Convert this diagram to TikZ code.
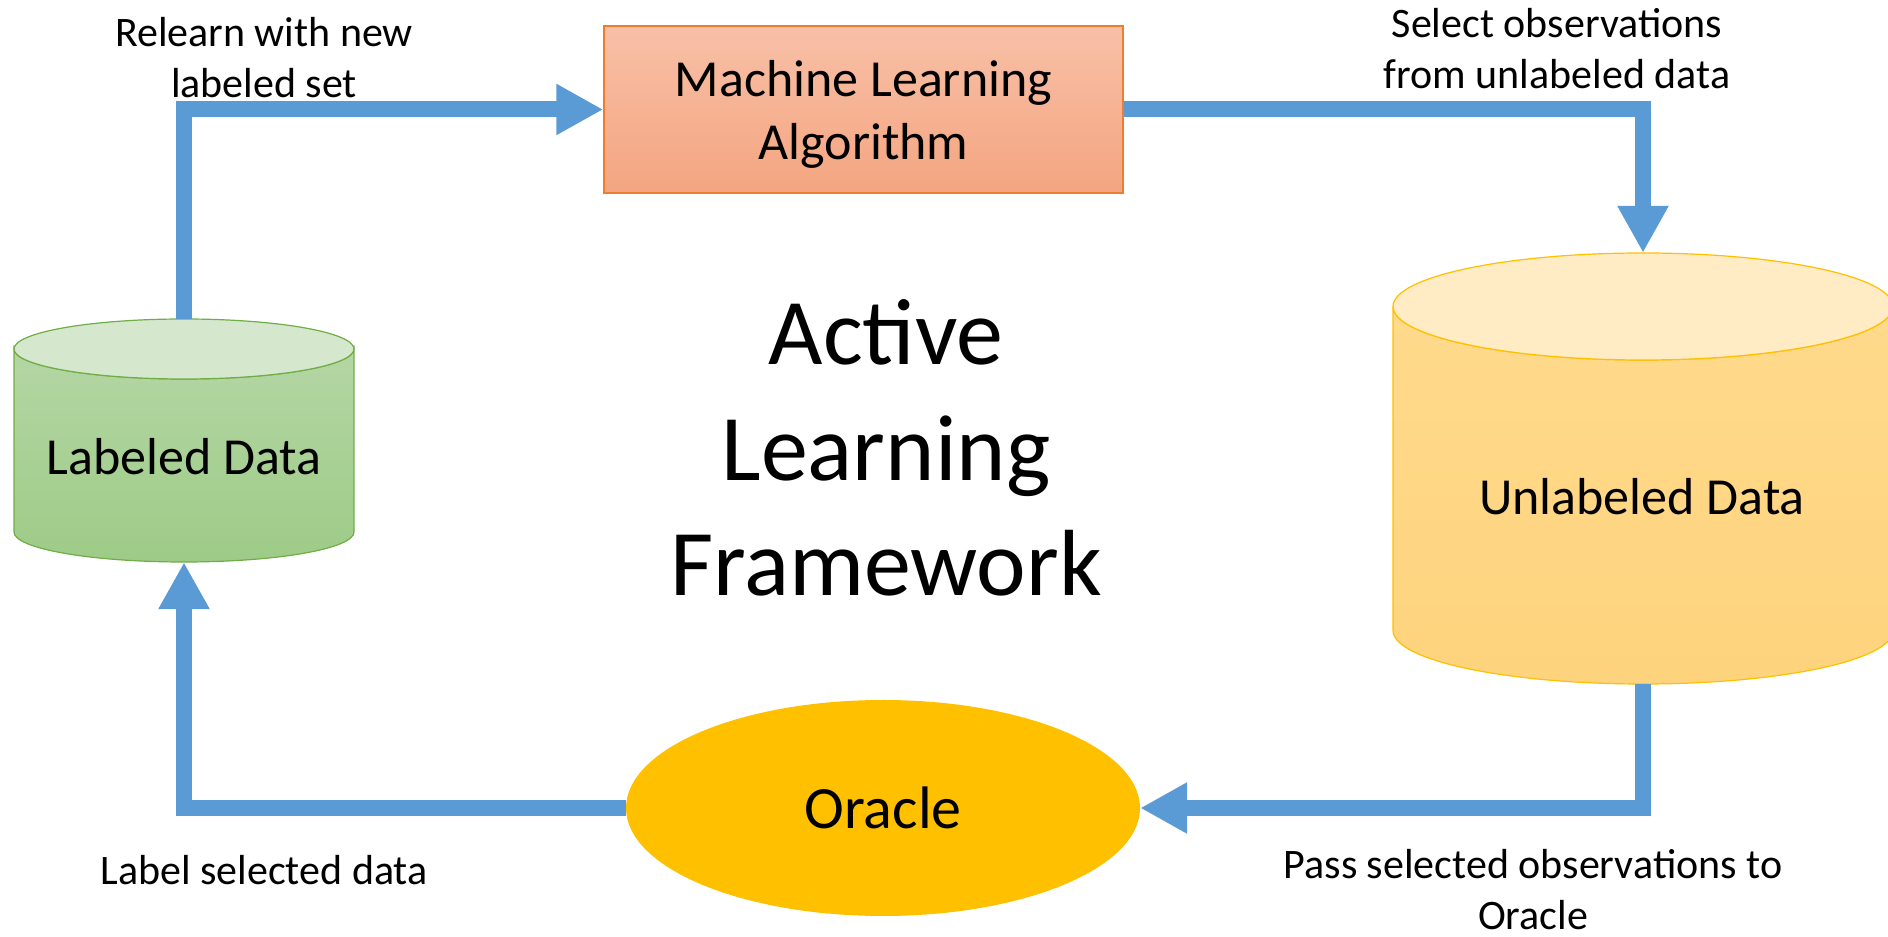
\documentclass[tikz,border=0pt]{standalone}
\usepackage{fontspec}
\setmainfont{Carlito}
\usetikzlibrary{arrows.meta,shapes.geometric}
\definecolor{flowblue}{RGB}{91,155,213}
\definecolor{mltop}{RGB}{248,192,167}
\definecolor{mlbot}{RGB}{244,165,128}
\definecolor{mlborder}{RGB}{237,125,49}
\definecolor{gtop}{RGB}{213,232,205}
\definecolor{gbodytop}{RGB}{180,214,164}
\definecolor{gbodybot}{RGB}{158,203,135}
\definecolor{gborder}{RGB}{112,173,71}
\definecolor{ytop}{RGB}{255,235,196}
\definecolor{ybodytop}{RGB}{255,218,140}
\definecolor{ybodybot}{RGB}{254,211,125}
\definecolor{yborder}{RGB}{255,192,0}
\definecolor{oraclefill}{RGB}{255,192,0}
\begin{document}
\begin{tikzpicture}[x=1pt,y=1pt,
  flow/.style={draw=flowblue, line width=16pt, -{Triangle[length=47pt,width=48pt]}},
  anchorbox/.style={rectangle, inner sep=0pt},
  midtext/.style={font=\fontsize{52}{63}\selectfont},
  smalltext/.style={align=center, font=\fontsize{42}{51}\selectfont}]
\useasboundingbox (0,0) rectangle (1888,937);

% Labeled Data cylinder
\path[draw=gborder, line width=1.2pt, top color=gbodytop, bottom color=gbodybot]
  (14,588) -- (14,405) arc[start angle=180, end angle=360, x radius=170, y radius=30]
  -- (354,588) arc[start angle=0, end angle=-180, x radius=170, y radius=30] -- cycle;
\draw[gborder, line width=1.2pt, fill=gtop] (184,588) ellipse[x radius=170, y radius=30];
\node[anchorbox, minimum width=340pt, minimum height=243pt] (lab) at (184,496.5) {};

% Unlabeled Data cylinder
\path[draw=yborder, line width=1.2pt, top color=ybodytop, bottom color=ybodybot]
  (1393,630.5) -- (1393,306.5) arc[start angle=180, end angle=360, x radius=250, y radius=53.5]
  -- (1893,630.5) arc[start angle=0, end angle=-180, x radius=250, y radius=53.5] -- cycle;
\draw[yborder, line width=1.2pt, fill=ytop] (1643,630.5) ellipse[x radius=250, y radius=53.5];
\node[anchorbox, minimum width=500pt, minimum height=431pt] (unl) at (1643,468.5) {};

% Machine Learning box
\node[draw=mlborder, line width=1.5pt, top color=mltop, bottom color=mlbot,
  minimum width=519pt, minimum height=167pt, align=center, midtext] (ml) at (863.5,827.5)
  {Machine Learning\\\raisebox{0pt}[\height][0pt]{Algorithm}};

% Oracle
\node[ellipse, fill=oraclefill, minimum width=514pt, minimum height=216pt, inner sep=0pt,
  font=\fontsize{60}{72}\selectfont] (orc) at (883,129) {Oracle};

% texts
\node[anchor=base, midtext] (labtxt) at (184,462) {Labeled Data};
\node[anchor=base, midtext] (unltxt) at (1642,422) {Unlabeled Data};
\node[align=center, font=\fontsize{94}{115.5}\selectfont] (title) at (886,489) {Active\\Learning\\Framework};
\node[smalltext] (t1) at (264,879) {Relearn with new\\labeled set};
\node[smalltext] (t2) at (1557,888) {Select observations\\from unlabeled data};
\node[smalltext, anchor=base] (t3) at (264,52) {Label selected data};
\node[smalltext] (t4) at (1533,47) {Pass selected observations to\\Oracle};

% connectors
\draw[flow] (lab.north) |- (ml.west);
\draw[flow] (ml.east) -| (unl.north);
\draw[flow] (unl.south) |- (orc.east);
\draw[flow] (orc.west) -| (lab.south);
\end{tikzpicture}
\end{document}
